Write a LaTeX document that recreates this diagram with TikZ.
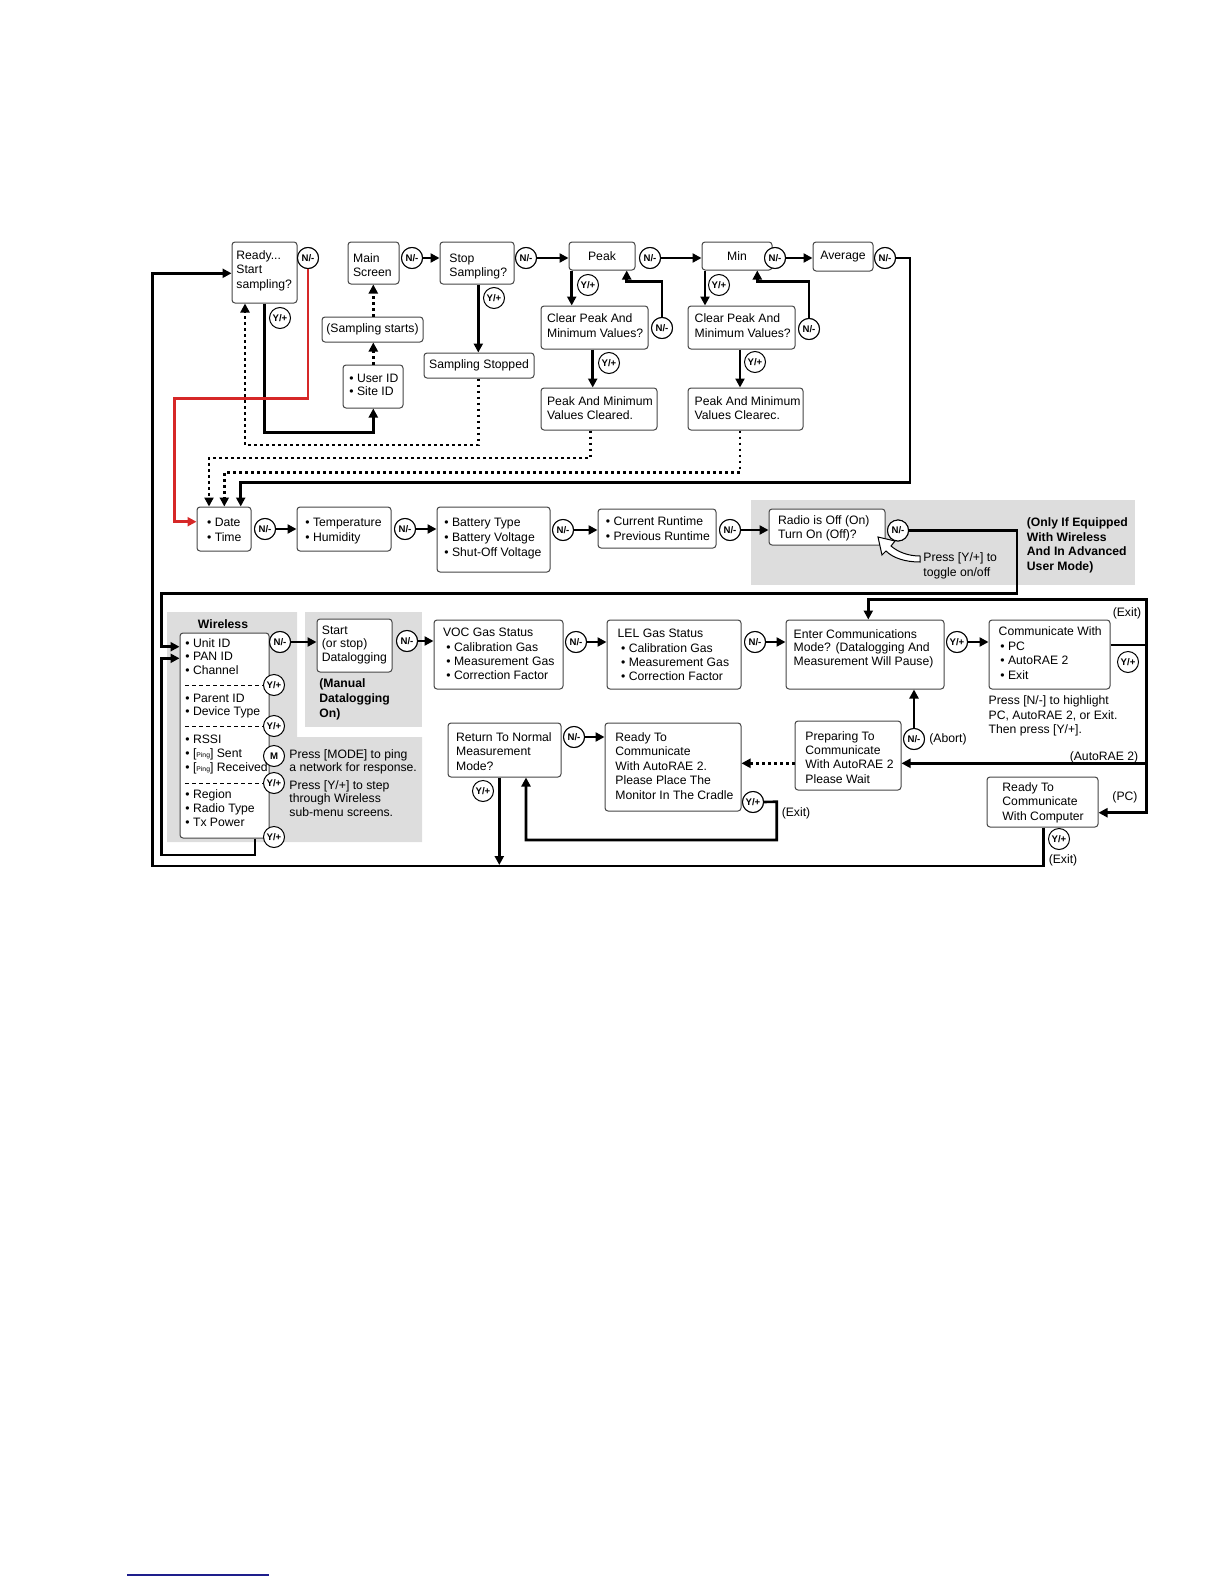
\documentclass[tikz,border=0pt]{standalone}
\usepackage{fontspec}
\setmainfont{Liberation Sans}
\usetikzlibrary{arrows.meta,fit}
\newcommand\mainf{\fontsize{6.1}{7.25}\selectfont}
\newcommand\circf{\fontsize{4.8}{5}\selectfont\bfseries}
\newcommand\pingf{\fontsize{3.4}{4}\selectfont}
\newcommand\mlines[1]{\begin{tabular}[t]{@{}l@{}}#1\end{tabular}}
\definecolor{panel}{RGB}{221,221,221}
\definecolor{redline}{RGB}{214,40,40}
\definecolor{boxline}{RGB}{70,70,70}
\definecolor{footblue}{RGB}{30,30,140}
\tikzset{
  box/.style={draw=boxline, line width=0.5pt, rounded corners=1.5pt, fill=white, inner sep=0pt},
  circ/.style={circle, draw, line width=0.5pt, minimum size=10.5pt, inner sep=0pt, fill=white, font=\circf},
  conn/.style={line width=1.3pt, -{Triangle[length=4.5pt,width=4.5pt]}},
  dots/.style={line width=1.3pt, dash pattern=on 1.4pt off 1.6pt, -{Triangle[length=4.5pt,width=4.5pt]}},
  t/.style={anchor=base west, inner sep=0pt, font=\mainf},
  tb/.style={anchor=base west, inner sep=0pt, font=\fontsize{6.1}{7.4}\selectfont\bfseries},
  lbl/.style={inner sep=0pt, font=\mainf},
  sep/.style={line width=0.4pt, dash pattern=on 2pt off 1.5pt},
}
\begin{document}
\begin{tikzpicture}[x=0.5pt,y=-0.5pt]
\useasboundingbox (0,0) rectangle (1224,1584);
% panels
\fill[panel] (751,500) rectangle (1135,585);
\fill[panel] (167,612) -- (297,612) -- (297,737) -- (422,737) -- (422,842) -- (167,842) -- cycle;
\fill[panel] (305,612) rectangle (422,727);

% boxes
\node[box, fit={(232,242) (297,303)}] (ready) {};
\node[box, fit={(348,242) (399,284)}] (mainscr) {};
\node[box, fit={(440,242) (514,284)}] (stop) {};
\node[box, fit={(569,242) (635,270)}] (peak) {};
\node[box, fit={(702,242) (772,270)}] (min) {};
\node[box, fit={(813,242) (873,271)}] (avg) {};
\node[box, fit={(322,317) (423,342)}] (sstart) {};
\node[box, fit={(343,365) (403,408)}] (user) {};
\node[box, fit={(424,353) (534,378)}] (sstop) {};
\node[box, fit={(541,306) (648,349)}] (clr1) {};
\node[box, fit={(541,388) (657,430)}] (cld1) {};
\node[box, fit={(688,306) (795,349)}] (clr2) {};
\node[box, fit={(688,388) (803,430)}] (cld2) {};
\node[box, fit={(197,507) (251,551)}] (date) {};
\node[box, fit={(297,507) (391,551)}] (temp) {};
\node[box, fit={(437,507) (550,572)}] (bat) {};
\node[box, fit={(598,509) (716,548)}] (cur) {};
\node[box, fit={(769,509) (885,545)}] (radio) {};
\node[box, fit={(180,633) (269,838)}] (wl) {};
\node[box, fit={(317,619) (392,672)}] (start) {};
\node[box, fit={(434,620) (563,689)}] (voc) {};
\node[box, fit={(607,620) (741,689)}] (lel) {};
\node[box, fit={(786,620) (944,689)}] (enter) {};
\node[box, fit={(989,620) (1110,689)}] (comm) {};
\node[box, fit={(448,723) (561,777)}] (ret) {};
\node[box, fit={(605,723) (741,811)}] (rdy) {};
\node[box, fit={(795,721) (901,790)}] (prep) {};
\node[box, fit={(987,777) (1098,827)}] (pc) {};

% circles
\node[circ] (nReady) at (308,258) {N/-};
\node[circ] (yReady) at (280,318) {Y/+};
\node[circ] (nMain) at (412,258) {N/-};
\node[circ] (nStop) at (526,258) {N/-};
\node[circ] (yStop) at (494,298) {Y/+};
\node[circ] (nPeak) at (650,258) {N/-};
\node[circ] (yPeak) at (588,285) {Y/+};
\node[circ] (nClr1) at (662,328) {N/-};
\node[circ] (yClr1) at (609,363) {Y/+};
\node[circ] (nMin) at (775,258) {N/-};
\node[circ] (yMin) at (719,285) {Y/+};
\node[circ] (nClr2) at (809,329) {N/-};
\node[circ] (yClr2) at (755,362) {Y/+};
\node[circ] (nAvg) at (885,258) {N/-};
\node[circ] (nDate) at (265,529) {N/-};
\node[circ] (nTemp) at (405,529) {N/-};
\node[circ] (nBat) at (563,530) {N/-};
\node[circ] (nCur) at (730,530) {N/-};
\node[circ] (nRadio) at (898,530.5) {N/-};
\node[circ] (nWl) at (280,642) {N/-};
\node[circ] (yW1) at (274,685) {Y/+};
\node[circ] (yW2) at (274,726) {Y/+};
\node[circ] (mW) at (274,756) {M};
\node[circ] (yW3) at (274,783) {Y/+};
\node[circ] (yW4) at (274,837) {Y/+};
\node[circ] (nStart) at (407,641) {N/-};
\node[circ] (nVoc) at (576,642) {N/-};
\node[circ] (nLel) at (755,642) {N/-};
\node[circ] (yEnter) at (957,642) {Y/+};
\node[circ] (yComm) at (1128,662) {Y/+};
\node[circ] (nPrep) at (914,739) {N/-};
\node[circ] (nRet) at (574,737) {N/-};
\node[circ] (yRet) at (483,791) {Y/+};
\node[circ] (yRdy) at (753,802) {Y/+};
\node[circ] (yPc) at (1059,839) {Y/+};

% connectors: top
\draw[conn] (nMain.east) -- (stop.west |- nMain.east);
\draw[conn] (nStop.east) -- (peak.west |- nStop.east);
\draw[conn] (nPeak.east) -- (min.west |- nPeak.east);
\draw[conn] (nMin.east) -- (avg.west |- nMin.east);
\draw[conn] (nAvg.east) -- (910,258) -- (910,482.7) -- (240.7,482.7) -- (240.7,0 |- date.north);
\draw[conn] (571.7,0 |- peak.south) -- (571.7,0 |- clr1.north);
\draw[conn] (nClr1.north) |- (626.7,281.7) -- (626.7,0 |- peak.south);
\draw[conn] (592.7,0 |- clr1.south) -- (592.7,0 |- cld1.north);
\draw[dots] (590.7,0 |- cld1.south) -- (590.7,458) -- (209,458) -- (209,0 |- date.north);
\draw[conn] (705,0 |- min.south) -- (705,0 |- clr2.north);
\draw[conn] (nClr2.north) |- (757.3,281.7) -- (757.3,0 |- min.south);
\draw[conn] (740,0 |- clr2.south) -- (740,0 |- cld2.north);
\draw[dots] (740,0 |- cld2.south) -- (740,472.3) -- (224.3,472.3) -- (224.3,0 |- date.north);
\draw[conn] (478.3,0 |- stop.south) -- (478.3,0 |- sstop.north);
\draw[dots] (478.3,0 |- sstop.south) -- (478.3,445) -- (245,445) -- (245,0 |- ready.south);
\draw[conn] (264.3,0 |- ready.south) -- (264.3,432.3) -- (373.3,432.3) -- (373.3,0 |- user.south);
\draw[dots] (373.3,0 |- user.north) -- (373.3,0 |- sstart.south);
\draw[dots] (373.3,0 |- sstart.north) -- (373.3,0 |- mainscr.south);
\draw[conn, redline] (nReady.south) -- (308,398.3) -- (174.3,398.3) -- (174.3,521.7) -- (date.west |- 0,521.7);
\draw[conn] (1043.3,0 |- pc.south) -- (1043.3,866) -- (152.3,866) -- (152.3,273.3) -- (ready.west |- 0,273.3);

% row 2
\draw[conn] (nDate.east) -- (temp.west |- nDate.east);
\draw[conn] (nTemp.east) -- (bat.west |- nTemp.east);
\draw[conn] (nBat.east) -- (cur.west |- nBat.east);
\draw[conn] (nCur.east) -- (radio.west |- nCur.east);
\draw[conn] (nRadio.east) -- (1017,530.5) -- (1017,593.3) -- (161.7,593.3) -- (161.7,646.7) -- (wl.west |- 0,646.7);
\draw[conn] (255,0 |- wl.south) -- (255,855) -- (161.7,855) -- (161.7,658.3) -- (wl.west |- 0,658.3);

% row 3
\draw[conn] (nWl.east) -- (start.west |- nWl.east);
\draw[conn] (nStart.east) -- (voc.west |- nStart.east);
\draw[conn] (nVoc.east) -- (lel.west |- nVoc.east);
\draw[conn] (nLel.east) -- (enter.west |- nLel.east);
\draw[conn] (yEnter.east) -- (comm.west |- yEnter.east);
\draw[conn] (comm.east |- 0,645) -- (1146.7,645) -- (1146.7,599.3) -- (868.3,599.3) -- (868.3,0 |- enter.north);
\draw[conn] (1146.7,645) -- (1146.7,763.3) -- (prep.east |- 0,763.3);
\draw[conn] (1146.7,763.3) -- (1146.7,812.7) -- (pc.east |- 0,812.7);
\draw[conn] (nPrep.north) -- (nPrep.north |- enter.south);
\draw[dots] (prep.west |- 0,763.3) -- (rdy.east |- 0,763.3);
\draw[conn] (nRet.east) -- (rdy.west |- nRet.east);
\draw[conn] (yRdy.east) -- (776.7,801.7) -- (776.7,840) -- (526,840) -- (526,0 |- ret.south);
\coordinate (retend) at (499.3,865);
\draw[conn] (499.3,0 |- ret.south) -- (retend);

% redraw circles that lines start from, on top
\foreach \c in {nReady,nMain,nStop,nPeak,nClr1,nMin,nClr2,nAvg,nDate,nTemp,nBat,nCur,nRadio,nWl,nStart,nVoc,nLel,nPrep,nRet}{
  \draw[line width=0.5pt, fill=white] (\c) circle[radius=10.5];
  \node[font=\circf, inner sep=0pt] at (\c) {N/-};}
\foreach \c in {yEnter,yRdy}{
  \draw[line width=0.5pt, fill=white] (\c) circle[radius=10.5];
  \node[font=\circf, inner sep=0pt] at (\c) {Y/+};}

% wireless separators
\draw[sep] (185,685) -- (yW1.west);
\draw[sep] (185,726) -- (yW2.west);
\draw[sep] (185,783) -- (yW3.west);

% hollow curved arrow
\draw[line width=0.5pt, fill=white] (878,537) -- (895,541) -- (891,546) .. controls (898,552) and (908,556) .. (920,556) -- (920,562) .. controls (905,562) and (893,558) .. (886,551) -- (882,555) -- cycle;

% texts
\node[t] at (236,259) {\mlines{Ready...\\Start\\sampling?}};
\node[t, font=\fontsize{6.1}{7}\selectfont] at (352.7,262) {\mlines{Main\\Screen}};
\node[t, font=\fontsize{6.1}{7}\selectfont] at (449,262) {\mlines{Stop\\Sampling?}};
\node[lbl] at (peak) {Peak};
\node[lbl] at (min) {Min};
\node[lbl] at (avg) {Average};
\node[lbl] at (sstart) {(Sampling starts)};
\node[lbl] at (sstop) {Sampling Stopped};
\node[t, font=\fontsize{6.1}{6.7}\selectfont] at (349,382) {\mlines{• User ID\\• Site ID}};
\node[t, font=\fontsize{6.1}{7.5}\selectfont] at (546.7,322.8) {\mlines{Clear Peak And\\Minimum Values?}};
\node[t, font=\fontsize{6.1}{7}\selectfont] at (546.7,405.5) {\mlines{Peak And Minimum\\Values Cleared.}};
\node[t, font=\fontsize{6.1}{7.5}\selectfont] at (694.3,322.8) {\mlines{Clear Peak And\\Minimum Values?}};
\node[t, font=\fontsize{6.1}{7}\selectfont] at (694.3,405.5) {\mlines{Peak And Minimum\\Values Clearec.}};
\node[t, font=\fontsize{6.1}{7.8}\selectfont] at (206.7,526.2) {\mlines{• Date\\• Time}};
\node[t, font=\fontsize{6.1}{7.8}\selectfont] at (305,526.2) {\mlines{• Temperature\\• Humidity}};
\node[t, font=\fontsize{6.1}{7.65}\selectfont] at (444,526.2) {\mlines{• Battery Type\\• Battery Voltage\\• Shut-Off Voltage}};
\node[t, font=\fontsize{6.1}{7.65}\selectfont] at (605.5,525.2) {\mlines{• Current Runtime\\• Previous Runtime}};
\node[t, font=\fontsize{6.1}{7}\selectfont] at (777.7,524.5) {\mlines{Radio is Off (On)\\Turn On (Off)?}};
\node[tb] at (1026.5,526.2) {\mlines{(Only If Equipped\\With Wireless\\And In Advanced\\User Mode)}};
\node[t, font=\fontsize{6.1}{7.2}\selectfont] at (923,561.8) {\mlines{Press [Y/+] to\\toggle on/off}};
\node[font=\fontsize{6.1}{7}\selectfont\bfseries, inner sep=0pt, anchor=base] at (223,628) {Wireless};
\node[t, font=\fontsize{6.1}{6.85}\selectfont] at (185,647) {\mlines{• Unit ID\\• PAN ID\\• Channel}};
\node[t, font=\fontsize{6.1}{6.75}\selectfont] at (185,702) {\mlines{• Parent ID\\• Device Type}};
\node[t, font=\fontsize{6.1}{7}\selectfont] at (185,743) {\mlines{• RSSI\\• [{\pingf Ping}] Sent\\• [{\pingf Ping}] Received}};
\node[t, font=\fontsize{6.1}{6.9}\selectfont] at (185,798.5) {\mlines{• Region\\• Radio Type\\• Tx Power}};
\node[t, font=\fontsize{6.1}{6.7}\selectfont] at (321.5,634.5) {\mlines{Start\\(or stop)\\Datalogging}};
\node[tb, font=\fontsize{6.1}{7.4}\selectfont\bfseries] at (319,687.5) {\mlines{(Manual\\Datalogging\\On)}};
\node[t, font=\fontsize{6.1}{6.7}\selectfont] at (289,758) {\mlines{Press [MODE] to ping\\a network for response.}};
\node[t, font=\fontsize{6.1}{6.85}\selectfont] at (289,789) {\mlines{Press [Y/+] to step\\through Wireless\\sub-menu screens.}};
\node[t] at (442.7,636) {VOC Gas Status};
\node[t, font=\fontsize{6.1}{7.15}\selectfont] at (446,651) {\mlines{• Calibration Gas\\• Measurement Gas\\• Correction Factor}};
\node[t] at (617.3,637) {LEL Gas Status};
\node[t, font=\fontsize{6.1}{7.15}\selectfont] at (620.7,652) {\mlines{• Calibration Gas\\• Measurement Gas\\• Correction Factor}};
\node[t, font=\fontsize{6.1}{6.9}\selectfont] at (793.3,638) {\mlines{Enter Communications\\Mode? (Datalogging And\\Measurement Will Pause)}};
\node[t] at (998.3,635.5) {Communicate With};
\node[t, font=\fontsize{6.1}{7.15}\selectfont] at (1000,650.5) {\mlines{• PC\\• AutoRAE 2\\• Exit}};
\node[t, font=\fontsize{6.1}{7.3}\selectfont] at (988.3,704.5) {\mlines{Press [N/-] to highlight\\PC, AutoRAE 2, or Exit.\\Then press [Y/+].}};
\node[t] at (455.7,741) {\mlines{Return To Normal\\Measurement\\Mode?}};
\node[t, font=\fontsize{6.1}{7.3}\selectfont] at (615,741) {\mlines{Ready To\\Communicate\\With AutoRAE 2.\\Please Place The\\Monitor In The Cradle}};
\node[t, font=\fontsize{6.1}{7.2}\selectfont] at (805,740) {\mlines{Preparing To\\Communicate\\With AutoRAE 2\\Please Wait}};
\node[t] at (1002,791) {\mlines{Ready To\\Communicate\\With Computer}};
\node[lbl] at (1127,613) {(Exit)};
\node[lbl] at (1104,757) {(AutoRAE 2)};
\node[lbl] at (1125,797) {(PC)};
\node[lbl] at (1063,860) {(Exit)};
\node[lbl] at (796,813) {(Exit)};
\node[lbl, anchor=west] at (929,739) {(Abort)};

% footnote rule
\draw[footblue, line width=0.6pt] (127,1575) -- (269,1575);
\end{tikzpicture}
\end{document}
